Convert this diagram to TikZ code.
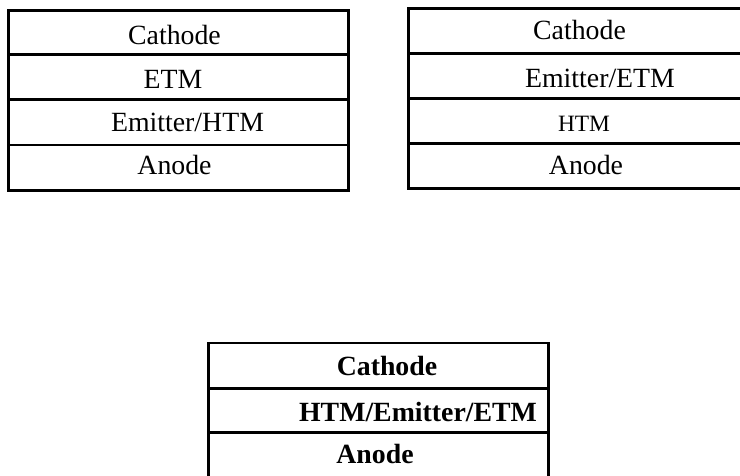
\documentclass[tikz,border=0pt]{standalone}
\usepackage{fontspec}
\setmainfont{Liberation Serif}
\begin{document}
\begin{tikzpicture}[x=1bp,y=-1bp,
  layer/.style={draw=black, line width=2.6bp, rectangle, inner sep=0pt,
    outer sep=0pt, anchor=north west},
  lbl/.style={inner sep=0pt, anchor=base, font=\fontsize{27.8bp}{32bp}\selectfont},
  lblsmall/.style={lbl, font=\fontsize{23.4bp}{27bp}\selectfont},
  lblbold/.style={lbl, font=\fontsize{27.8bp}{32bp}\selectfont\bfseries}]
\useasboundingbox (0,0) rectangle (740,476);
\begin{scope}
\clip (0,0) rectangle (740,476);

% Device A: Cathode / ETM / Emitter-HTM / Anode
\node[layer, minimum width=340.2bp, minimum height=43.9bp] (a1) at (8.3,10.8) {};
\node[layer, minimum width=340.2bp, minimum height=44.6bp] (a2) at (8.3,54.7) {};
\node[layer, minimum width=340.2bp, minimum height=45.7bp] (a3) at (8.3,99.3) {};
\node[layer, minimum width=340.2bp, minimum height=45.5bp] (a4) at (8.3,145) {};
\node[lbl] (ta1) at (174.5,45) {Cathode};
\node[lbl] (ta2) at (173,89) {ETM};
\node[lbl] (ta3) at (187.5,132) {Emitter/HTM};
\node[lbl] (ta4) at (174.5,175) {Anode};

% Device B: Cathode / Emitter-ETM / HTM / Anode
\node[layer, minimum width=345bp, minimum height=44.8bp] (b1) at (408.5,8.7) {};
\node[layer, minimum width=345bp, minimum height=45bp] (b2) at (408.5,53.5) {};
\node[layer, minimum width=345bp, minimum height=45bp] (b3) at (408.5,98.5) {};
\node[layer, minimum width=345bp, minimum height=45.2bp] (b4) at (408.5,143.5) {};
\node[lbl] (tb1) at (579.5,40) {Cathode};
\node[lbl] (tb2) at (600,88) {Emitter/ETM};
\node[lblsmall] (tb3) at (584,132) {HTM};
\node[lbl] (tb4) at (586,175) {Anode};

% Device C: single-layer HTM/Emitter/ETM
\node[layer, minimum width=340bp, minimum height=45.5bp] (c1) at (208.3,343) {};
\node[layer, minimum width=340bp, minimum height=43.8bp] (c2) at (208.3,388.5) {};
\node[layer, minimum width=340bp, minimum height=44.5bp] (c3) at (208.3,432.3) {};
\node[lblbold] (tc1) at (387,375) {Cathode};
\node[lblbold] (tc2) at (418,421) {HTM/Emitter/ETM};
\node[lblbold] (tc3) at (375,463) {Anode};
\end{scope}
\end{tikzpicture}
\end{document}
